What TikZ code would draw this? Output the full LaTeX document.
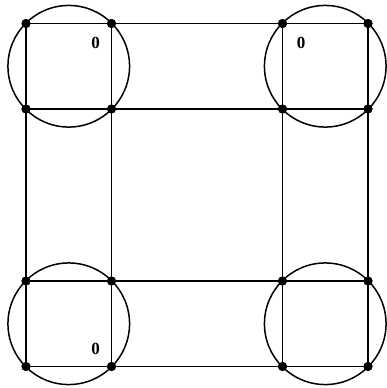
\documentclass[tikz,border=0pt]{standalone}
\usepackage{fontspec}
\setmainfont{Liberation Serif}
\newcommand{\zerolbl}{\fontsize{17pt}{19pt}\selectfont\bfseries 0}
\begin{document}
\begin{tikzpicture}[x=1pt,y=-1pt,
  dot/.style={circle,fill=black,inner sep=0pt,minimum size=9pt},
  edge/.style={line width=1.5pt},
  ring/.style={line width=1.5pt},
  lbl/.style={inner sep=0pt}]
\useasboundingbox (0,0) rectangle (387,388);
% points
\foreach \i/\x in {1/26,2/111.5,3/282.5,4/368}{
  \foreach \j/\y in {1/23.5,2/109,3/281,4/366.5}{
    \node[dot] (p\i\j) at (\x,\y) {};
  }
}
% horizontal lines
\foreach \j in {1,2,3,4}{
  \draw[edge] (p1\j.center) -- (p2\j.center) -- (p3\j.center) -- (p4\j.center);
}
% vertical lines
\foreach \i in {1,2,3,4}{
  \draw[edge] (p\i1.center) -- (p\i2.center) -- (p\i3.center) -- (p\i4.center);
}
% circles
\draw[ring] (68.75,66.25) circle (60.8);
\draw[ring] (325.25,66.25) circle (60.8);
\draw[ring] (68.75,323.75) circle (60.8);
\draw[ring] (325.25,323.75) circle (60.8);
% dots on top
\foreach \i in {1,2,3,4}{
  \foreach \j in {1,2,3,4}{
    \fill (p\i\j) circle (4.5);
  }
}
\node[lbl] (l1) at (95.5,42.5) {\zerolbl};
\node[lbl] (l2) at (301,42.5) {\zerolbl};
\node[lbl] (l3) at (95.5,348.5) {\zerolbl};
\end{tikzpicture}
\end{document}
